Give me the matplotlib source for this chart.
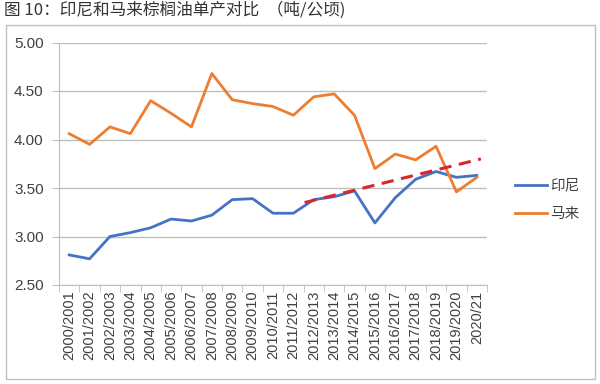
import matplotlib
matplotlib.use("Agg")
import matplotlib.pyplot as plt
from matplotlib.patches import Rectangle

plt.rcParams['font.family'] = ['Liberation Sans', 'Noto Sans CJK SC', 'DejaVu Sans']

seasons = ["2000/2001", "2001/2002", "2002/2003", "2003/2004", "2004/2005", "2005/2006",
           "2006/2007", "2007/2008", "2008/2009", "2009/2010", "2010/2011", "2011/2012",
           "2012/2013", "2013/2014", "2014/2015", "2015/2016", "2016/2017", "2017/2018",
           "2018/2019", "2019/2020", "2020/21"]
indonesia = [2.81, 2.77, 3.00, 3.04, 3.09, 3.18, 3.16, 3.22, 3.38, 3.39, 3.24, 3.24,
             3.38, 3.41, 3.47, 3.14, 3.40, 3.59, 3.67, 3.61, 3.63]
malaysia = [4.06, 3.95, 4.13, 4.06, 4.40, 4.27, 4.13, 4.68, 4.41, 4.37, 4.34, 4.25,
            4.44, 4.47, 4.25, 3.70, 3.85, 3.79, 3.93, 3.46, 3.61]
trend_x = [11.55, 20.2]
trend_y = [3.35, 3.80]
yticks = [2.50, 3.00, 3.50, 4.00, 4.50, 5.00]

W, H = 600, 384
fig = plt.figure(figsize=(6, 3.84), dpi=100)

# outer frame
fig.patches.append(Rectangle((6 / W, 1 - 379 / H), (595 - 6) / W, (379 - 25) / H,
                             transform=fig.transFigure, fill=False,
                             edgecolor='#BFBFBF', linewidth=1.0))

fig.text(4 / W, 1 - 10 / H, "图 10：印尼和马来棕榈油单产对比  （吨/公顷)",
         family=['Noto Sans CJK SC', 'DejaVu Sans'], fontsize=12,
         color='#333333', va='center', ha='left')

left, right, top, bottom = 59, 487, 42.5, 285
ax = fig.add_axes([left / W, 1 - bottom / H, (right - left) / W, (bottom - top) / H])

x = list(range(len(seasons)))
ax.plot(x, indonesia, color='#4472C4', linewidth=2.0, label='印尼', zorder=3)
ax.plot(x, malaysia, color='#ED7D31', linewidth=2.0, label='马来', zorder=3)
ax.plot(trend_x, trend_y, color='#D9262B', linewidth=2.2, linestyle=(0, (4, 2.5)), zorder=4)

ax.set_xlim(-0.5, len(seasons) - 0.5)
ax.set_ylim(2.5, 5.0)
ax.set_yticks(yticks)
ax.set_yticklabels([f"{v:.2f}" for v in yticks], fontsize=11, color='#404040')
ax.yaxis.grid(True, color='#BFBFBF', linewidth=1.0)
ax.set_axisbelow(True)

ax.set_xticks(x)
ax.set_xticklabels(seasons, rotation=90, fontsize=10.5, color='#404040', va='top', ha='center')
ax.set_xticks([i + 0.5 for i in range(-1, len(seasons))], minor=True)
ax.tick_params(axis='x', which='major', length=0, pad=4)
ax.tick_params(axis='x', which='minor', length=5, color='#BFBFBF', direction='out')
ax.tick_params(axis='y', length=5, color='#BFBFBF', pad=6)

for s in ['top', 'right']:
    ax.spines[s].set_visible(False)
ax.spines['left'].set_color('#BFBFBF')
ax.spines['bottom'].set_color('#BFBFBF')

leg = fig.legend(loc='center left', bbox_to_anchor=(502 / W, 1 - 200 / H), frameon=False,
                 prop={'family': ['Noto Sans CJK SC', 'DejaVu Sans'], 'size': 10.5},
                 handlelength=2.2, labelspacing=1.0, handletextpad=0.2)
for t in leg.get_texts():
    t.set_color('#404040')

fig.savefig("out.png", dpi=100)
